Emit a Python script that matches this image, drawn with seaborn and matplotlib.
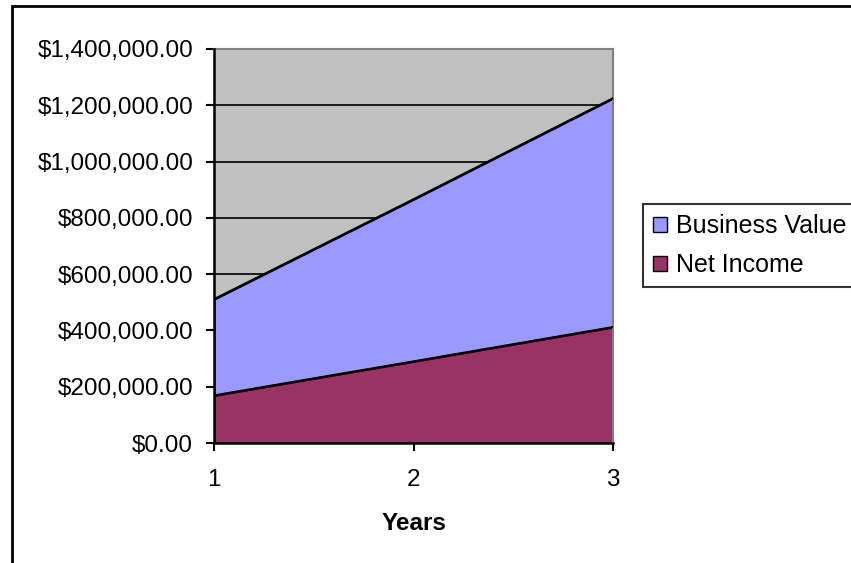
import matplotlib
matplotlib.use('Agg')
import matplotlib.pyplot as plt
import seaborn as sns
import pandas as pd
from matplotlib.patches import Patch, Rectangle
from matplotlib.ticker import FuncFormatter, MultipleLocator

# Values
years = [1, 2, 3]
business_value = [511000, 866000, 1225000]
net_income = [169000, 290000, 412000]
series_names = ['Business Value', 'Net Income']
series_colors = ['#9999FF', '#993366']


def main():
    sns.set_theme(style='white')
    plt.rcParams['font.family'] = ['Liberation Sans', 'DejaVu Sans']
    plt.rcParams['text.color'] = 'black'
    plt.rcParams['axes.labelcolor'] = 'black'
    plt.rcParams['xtick.color'] = 'black'
    plt.rcParams['ytick.color'] = 'black'

    df = pd.DataFrame({'Years': years,
                       'Business Value': business_value,
                       'Net Income': net_income})
    long_df = df.melt(id_vars='Years', var_name='series', value_name='value')

    fig = plt.figure(figsize=(8.51, 5.63), dpi=100)
    ax = fig.add_axes([214 / 851, 1 - 443 / 563, (613 - 214) / 851, (443 - 49) / 563])
    ax.set_facecolor('#C0C0C0')

    # Horizontal gridlines like the Excel chart
    ax.yaxis.set_major_locator(MultipleLocator(200000))
    ax.grid(axis='y', color='black', linewidth=1.2, zorder=0)
    ax.set_axisbelow(True)

    # Filled areas, business value behind net income
    for name, color in zip(series_names, series_colors):
        ax.fill_between(df['Years'], 0, df[name], facecolor=color,
                        edgecolor='black', linewidth=1.5, zorder=2)

    sns.lineplot(data=long_df, x='Years', y='value', hue='series',
                 palette=['black', 'black'], linewidth=1.5, legend=False,
                 ax=ax, zorder=3)

    ax.set_xlim(1, 3)
    ax.set_ylim(0, 1400000)
    ax.set_xticks(years)
    ax.yaxis.set_major_formatter(FuncFormatter(lambda v, p: '${:,.2f}'.format(v)))

    ax.set_xlabel('Years', fontsize=17.5, fontweight='bold', labelpad=15)
    ax.set_ylabel('')
    ax.tick_params(axis='both', which='major', direction='out', length=6,
                   width=1.5, color='black', labelsize=17.5, left=True, bottom=True)
    ax.tick_params(axis='y', pad=9)
    ax.tick_params(axis='x', pad=13)

    for side in ['left', 'bottom']:
        ax.spines[side].set_color('black')
        ax.spines[side].set_linewidth(1.8)
        ax.spines[side].set_zorder(4)
    for side in ['top', 'right']:
        ax.spines[side].set_color('#808080')
        ax.spines[side].set_linewidth(1.5)

    # Legend
    handles = [Patch(facecolor=c, edgecolor='black', linewidth=1) for c in series_colors]
    leg = fig.legend(handles, series_names, loc='center left',
                     bbox_to_anchor=(643 / 851, 1 - 246 / 563),
                     fontsize=18, frameon=True, fancybox=False,
                     handlelength=0.55, handleheight=0.55, handletextpad=0.35,
                     labelspacing=0.6, borderpad=0.4, borderaxespad=0)
    leg.get_frame().set_edgecolor('black')
    leg.get_frame().set_linewidth(1.5)

    # Chart area border, running off the right and bottom edges
    fig.add_artist(Rectangle((12 / 851, -0.1), 1.2, 1.1 - 6.5 / 563,
                             transform=fig.transFigure, fill=False,
                             edgecolor='black', linewidth=2))

    fig.savefig('out.png', dpi=100)


if __name__ == '__main__':
    main()
